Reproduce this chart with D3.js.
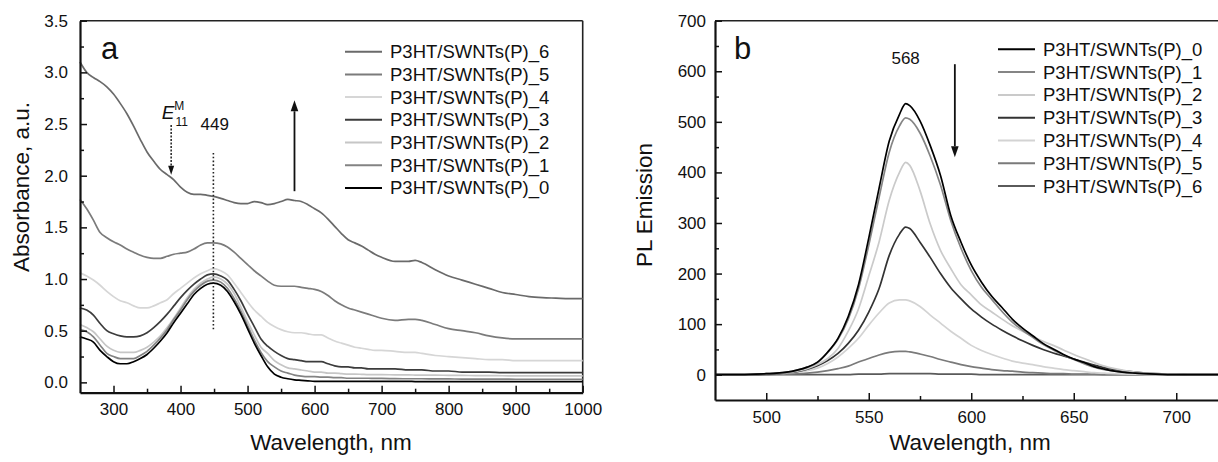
<!DOCTYPE html>
<html><head><meta charset="utf-8">
<script src="https://cdn.jsdelivr.net/npm/d3@7"></script>
<style>
body{margin:0;background:#fff}
svg{display:block}
text{font-family:Arial,"Liberation Sans",Helvetica,sans-serif;fill:#111}
</style>
</head><body>
<svg id="chart" width="1218" height="462"></svg>
<script>
// ---------- Panel a : absorbance ----------
const wavelengthsA = [250,260,270,280,290,300,310,320,330,340,
  350,360,370,380,390,400,410,420,430,440,
  449,
  460,470,480,490,500,510,520,530,540,550,
  560,570,580,590,600,610,620,630,640,650,
  660,670,680,690,700,
  720,740,750,760,780,
  800,820,840,860,880,900,920,940,960,980,1000];
const absorbance6 = [3.10,3.00,2.95,2.91,2.86,2.79,2.70,2.60,2.48,2.35,
  2.23,2.14,2.06,2.01,1.96,1.89,1.84,1.82,1.82,1.81,
  1.80,
  1.78,1.76,1.74,1.73,1.73,1.75,1.74,1.72,1.73,1.75,
  1.77,1.76,1.75,1.72,1.68,1.64,1.58,1.51,1.44,1.38,
  1.35,1.32,1.28,1.24,1.21,
  1.17,1.17,1.18,1.16,1.09,
  1.03,0.99,0.95,0.91,0.87,0.85,0.83,0.82,0.815,0.81,0.81];
const absorbance5 = [1.77,1.68,1.57,1.45,1.40,1.36,1.33,1.29,1.26,1.23,
  1.21,1.20,1.20,1.22,1.24,1.25,1.26,1.29,1.33,1.35,
  1.35,
  1.34,1.31,1.26,1.20,1.14,1.08,1.03,0.98,0.94,0.93,
  0.93,0.93,0.92,0.91,0.90,0.88,0.84,0.79,0.75,0.72,
  0.70,0.68,0.66,0.64,0.62,
  0.60,0.61,0.61,0.60,0.56,
  0.52,0.50,0.48,0.45,0.43,0.42,0.42,0.42,0.42,0.42,0.42];
const absorbance4 = [1.06,1.03,0.99,0.94,0.88,0.83,0.79,0.77,0.74,0.72,
  0.72,0.74,0.77,0.80,0.86,0.91,0.96,1.01,1.05,1.08,
  1.10,
  1.08,1.04,0.96,0.87,0.78,0.70,0.64,0.58,0.54,0.51,
  0.49,0.48,0.48,0.47,0.46,0.46,0.43,0.40,0.38,0.36,
  0.34,0.33,0.32,0.31,0.31,
  0.30,0.29,0.29,0.28,0.26,
  0.25,0.24,0.23,0.22,0.22,0.21,0.21,0.21,0.21,0.21,0.21];
const absorbance3 = [0.72,0.70,0.65,0.57,0.50,0.47,0.45,0.44,0.44,0.45,
  0.48,0.53,0.59,0.66,0.74,0.82,0.89,0.95,1.00,1.04,
  1.05,
  1.03,0.99,0.90,0.79,0.66,0.54,0.42,0.35,0.30,0.26,
  0.23,0.22,0.21,0.20,0.20,0.20,0.18,0.16,0.15,0.15,
  0.14,0.14,0.13,0.13,0.13,
  0.13,0.12,0.12,0.12,0.11,
  0.11,0.10,0.10,0.10,0.095,0.095,0.094,0.094,0.094,0.094,0.094];
const absorbance2 = [0.56,0.53,0.49,0.42,0.35,0.31,0.29,0.29,0.29,0.31,
  0.34,0.39,0.45,0.53,0.62,0.72,0.82,0.90,0.96,1.00,
  1.02,
  1.00,0.95,0.86,0.73,0.59,0.46,0.34,0.28,0.21,0.17,
  0.14,0.13,0.12,0.11,0.10,0.10,0.09,0.09,0.085,0.08,
  0.08,0.078,0.075,0.075,0.075,
  0.073,0.072,0.071,0.07,0.07,
  0.068,0.067,0.066,0.065,0.064,0.063,0.063,0.062,0.062,0.062,0.062];
const absorbance1 = [0.51,0.49,0.44,0.36,0.28,0.25,0.23,0.23,0.23,0.26,
  0.30,0.36,0.43,0.51,0.61,0.70,0.80,0.88,0.94,0.98,
  0.99,
  0.97,0.91,0.81,0.69,0.55,0.41,0.29,0.20,0.15,0.11,
  0.09,0.07,0.06,0.055,0.055,0.05,0.05,0.045,0.045,0.04,
  0.04,0.04,0.04,0.038,0.038,
  0.036,0.035,0.035,0.035,0.034,
  0.033,0.032,0.032,0.031,0.031,0.03,0.03,0.03,0.03,0.03,0.03];
const absorbance0 = [0.44,0.42,0.39,0.31,0.25,0.20,0.18,0.18,0.20,0.23,
  0.27,0.33,0.40,0.48,0.58,0.67,0.76,0.85,0.91,0.95,
  0.96,
  0.94,0.88,0.78,0.66,0.52,0.38,0.26,0.15,0.08,0.05,
  0.035,0.025,0.02,0.015,0.01,0.01,0.01,0.01,0.01,0.01,
  0.01,0.01,0.01,0.01,0.01,
  0.01,0.01,0.008,0.008,0.008,
  0.008,0.008,0.008,0.007,0.007,0.007,0.007,0.007,0.007,0.007,0.007];
const xTicksA = [300,400,500,600,700,800,900,1000];
const xMinorA = [350,450,550,650,750,850,950];
const yTicksA = [0,0.5,1.0,1.5,2.0,2.5,3.0,3.5];
const yMinorA = [0.25,0.75,1.25,1.75,2.25,2.75,3.25];

// ---------- Panel b : PL emission ----------
const wavelengthsB = [475,485,495,
  500,505,510,515,520,525,530,535,540,545,550,555,560,565,
  568,
  570,575,580,585,590,595,600,605,610,615,620,625,630,635,640,645,650,655,660,665,670,
  680,690,700,710,725];
const emission0 = [0,0,1, 2,3,5,9,15,25,45,72,115,178,270,368,462,515, 536,
  532,502,453,394,315,262,217,183,155,133,110,92,77,62,51,40,31,24,16,11,7, 3,1,0,0,0];
const emission1 = [0,0,1, 2,3,5,9,15,24,44,70,110,170,256,350,440,492, 508,
  505,478,432,375,305,250,206,173,149,125,104,88,74,60,49,39,30,22,15,10,7, 3,1,0,0,0];
const emission2 = [0,0,1, 2,3,4,7,12,20,32,52,86,130,195,262,345,400, 420,
  414,364,298,246,210,178,158,138,124,110,97,86,76,66,58,49,40,32,24,17,12, 5,2,1,0,0];
const emission3 = [0,0,0, 1,2,4,6,11,18,28,42,62,88,124,170,236,278, 292,
  289,262,232,200,172,150,130,114,100,88,77,67,58,50,43,37,31,25,19,14,10, 5,2,1,0,0];
const emission4 = [0,0,0, 1,2,3,5,8,13,22,35,52,72,98,122,142,148, 148,
  146,135,118,102,86,72,58,48,40,33,27,23,20,16,13,10,8,6,4,3,2, 1,0,0,0,0];
const emission5 = [0,0,0, 0,1,1,2,3,5,8,12,17,25,32,39,44,46, 46,
  45,41,36,30,25,20,16,13,10,8,7,5,4,3,2,2,1,1,1,0,0, 0,0,0,0,0];
const emission6 = [0,0,0, 0,0,0,0,0,0,0,0,0,1,1,1,2,2, 2,
  2,2,2,1,1,1,1,0,0,0,0,0,0,0,0,0,0,0,0,0,0, 0,0,0,0,0];
const xTicksB = [500,550,600,650,700];
const xMinorB = [525,575,625,675];
const yTicksB = [0,100,200,300,400,500,600,700];
const yMinorB = [50,150,250,350,450,550,650];

const seriesNames = ["P3HT/SWNTs(P)_0","P3HT/SWNTs(P)_1","P3HT/SWNTs(P)_2","P3HT/SWNTs(P)_3",
  "P3HT/SWNTs(P)_4","P3HT/SWNTs(P)_5","P3HT/SWNTs(P)_6"];
const absorbanceSeries = [absorbance0,absorbance1,absorbance2,absorbance3,absorbance4,absorbance5,absorbance6];
const emissionSeries = [emission0,emission1,emission2,emission3,emission4,emission5,emission6];
const colorsA = ["#000000","#838383","#c6c6c6","#3c3c3c","#d6d6d6","#7b7b7b","#6a6a6a"];
const colorsB = ["#000000","#858585","#cacaca","#333333","#d3d3d3","#7a7a7a","#5a5a5a"];
const legendOrderA = [6,5,4,3,2,1,0];
const legendOrderB = [0,1,2,3,4,5,6];

const svg = d3.select("#chart");

function drawPanel(o) {
  const g = svg.append("g");
  const x = o.x, y = o.y;
  const [x0, x1] = x.range(); const [yb, yt] = y.range();
  // frame top/right
  g.append("line").attr("x1", x0).attr("x2", x1).attr("y1", yt).attr("y2", yt)
    .attr("stroke", "#222").attr("stroke-width", 1.6);
  if (o.rightFrame) g.append("line").attr("x1", x1).attr("x2", x1).attr("y1", yt).attr("y2", yb)
    .attr("stroke", "#222").attr("stroke-width", 1.6);

  // curves
  const line = d3.line().curve(d3.curveMonotoneX);
  for (let i = o.series.length - 1; i >= 0; i--) {
    const pts = o.wl.map((w, k) => [x(w), y(o.series[i][k])]);
    g.append("path").attr("d", line(pts)).attr("fill", "none")
      .attr("stroke", o.colors[i]).attr("stroke-width", 1.7).attr("stroke-linejoin", "round");
  }

  // axes
  const gx = g.append("g").attr("transform", `translate(0,${yb})`)
    .call(d3.axisBottom(x).tickValues(o.xTicks).tickSizeInner(-7).tickSizeOuter(0).tickPadding(9).tickFormat(d3.format("d")));
  g.append("g").attr("transform", `translate(0,${yb})`)
    .call(d3.axisBottom(x).tickValues(o.xMinor).tickSizeInner(-4).tickSizeOuter(0).tickFormat(""))
    .select(".domain").remove();
  const gy = g.append("g").attr("transform", `translate(${x0},0)`)
    .call(d3.axisLeft(y).tickValues(o.yTicks).tickSizeInner(-7).tickSizeOuter(0).tickPadding(o.yPad).tickFormat(o.yFmt));
  g.append("g").attr("transform", `translate(${x0},0)`)
    .call(d3.axisLeft(y).tickValues(o.yMinor).tickSizeInner(-4).tickSizeOuter(0).tickFormat(""))
    .select(".domain").remove();
  g.selectAll(".domain").attr("stroke", "#111").attr("stroke-width", 2.2);
  g.selectAll(".tick line").attr("stroke", "#111").attr("stroke-width", 1.5);
  g.selectAll(".tick text").attr("font-size", 17).attr("fill", "#111")
    .attr("font-family", "Arial, 'Liberation Sans', sans-serif");
  gx.selectAll(".tick text").attr("dy", "0.71em").attr("y", o.xLabelPad);

  // axis titles
  g.append("text").attr("x", o.xTitleX).attr("y", 450).attr("text-anchor", "middle")
    .attr("font-size", 22.5).text("Wavelength, nm");
  g.append("text").attr("transform", `translate(${o.yTitleX},${o.yTitleY}) rotate(-90)`)
    .attr("text-anchor", "middle").attr("font-size", 22.5).text(o.yTitle);

  // panel letter
  g.append("text").attr("x", x0 + o.letterDx).attr("y", 59).attr("font-size", 31).text(o.letter);

  // legend
  o.legendOrder.forEach((idx, r) => {
    const cy = o.legY0 + r * o.legDy;
    g.append("line").attr("x1", o.legX).attr("x2", o.legX + 37).attr("y1", cy).attr("y2", cy)
      .attr("stroke", o.colors[idx]).attr("stroke-width", 2);
    g.append("text").attr("x", o.legX + 45).attr("y", cy + 6.5).attr("font-size", 18.5)
      .text(seriesNames[idx]);
  });
  return g;
}

function arrow(g, xp, y1, y2, dashed) {
  const dir = Math.sign(y2 - y1);
  const headLen = dashed ? 9 : 11, headW = dashed ? 3 : 3.8;
  g.append("line").attr("x1", xp).attr("x2", xp).attr("y1", y1).attr("y2", y2 - dir * headLen)
    .attr("stroke", "#111").attr("stroke-width", dashed ? 1.4 : 1.8)
    .attr("stroke-dasharray", dashed ? "2,1.5" : null);
  g.append("path").attr("d", `M${xp - headW},${y2 - dir * headLen}L${xp},${y2}L${xp + headW},${y2 - dir * headLen}Z`)
    .attr("fill", "#111");
}

// Panel a
const xA = d3.scaleLinear().domain([250, 1000]).range([80, 582.7]);
const yA = d3.scaleLinear().domain([-0.1, 3.5]).range([392.7, 20.7]);
const gA = drawPanel({
  x: xA, y: yA, wl: wavelengthsA, series: absorbanceSeries, colors: colorsA,
  xTicks: xTicksA, xMinor: xMinorA, yTicks: yTicksA, yMinor: yMinorA,
  yFmt: d3.format(".1f"), yPad: 12, xLabelPad: 10, rightFrame: true,
  xTitleX: 331, yTitle: "Absorbance, a.u.", yTitleX: 29, yTitleY: 187,
  letter: "a", letterDx: 21, legendOrder: legendOrderA, legX: 345, legY0: 51.7, legDy: 22.7
});
// 449 dotted marker
gA.append("line").attr("x1", xA(449)).attr("x2", xA(449)).attr("y1", yA(2.22)).attr("y2", yA(0.51))
  .attr("stroke", "#222").attr("stroke-width", 1.6).attr("stroke-dasharray", "1.6,2.2");
gA.append("text").attr("x", xA(451)).attr("y", yA(2.44)).attr("text-anchor", "middle")
  .attr("font-size", 17).text("449");
arrow(gA, xA(570), yA(1.85), yA(2.73), false);
arrow(gA, xA(386), yA(2.49), yA(2.01), true);
const eLab = gA.append("text").attr("x", xA(372)).attr("y", yA(2.55))
  .attr("font-family", "'Liberation Serif','DejaVu Serif',serif").attr("font-size", 19);
eLab.append("tspan").attr("font-style", "italic").text("E");
eLab.append("tspan").attr("font-size", 12).attr("dy", 7).attr("dx", 1).text("11");
gA.append("text").attr("x", xA(372) + 12.5).attr("y", yA(2.55) - 9)
  .attr("font-family", "'Liberation Serif','DejaVu Serif',serif").attr("font-size", 12).text("M");

// Panel b
const xB = d3.scaleLinear().domain([475, 725]).range([715, 1227.5]);
const yB = d3.scaleLinear().domain([-50, 700]).range([400, 20.7]);
const gB = drawPanel({
  x: xB, y: yB, wl: wavelengthsB, series: emissionSeries, colors: colorsB,
  xTicks: xTicksB, xMinor: xMinorB, yTicks: yTicksB, yMinor: yMinorB,
  yFmt: d3.format("d"), yPad: 9, xLabelPad: 11, rightFrame: false,
  xTitleX: 970, yTitle: "PL Emission", yTitleX: 652, yTitleY: 205,
  letter: "b", letterDx: 19, legendOrder: legendOrderB, legX: 998, legY0: 49.3, legDy: 22.8
});
gB.append("text").attr("x", xB(568)).attr("y", yB(614)).attr("text-anchor", "middle")
  .attr("font-size", 17).text("568");
arrow(gB, xB(592), yB(614), yB(430), false);
</script>
</body></html>
